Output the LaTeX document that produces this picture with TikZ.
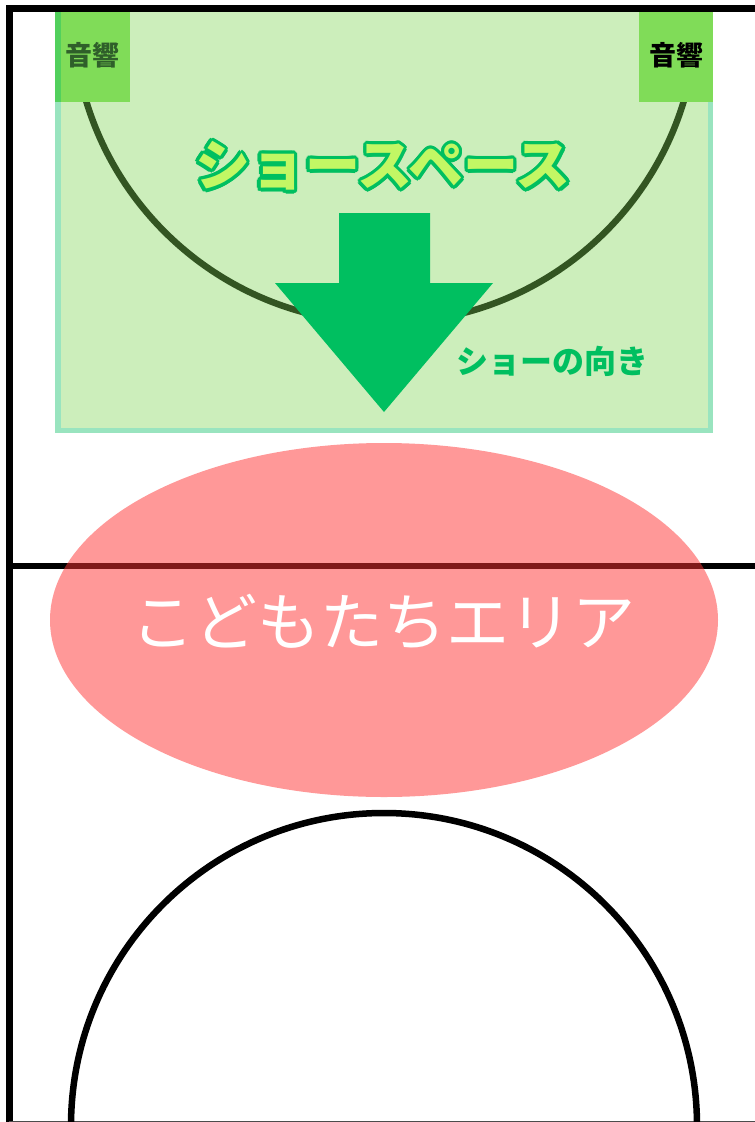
\documentclass[tikz,border=0pt]{standalone}
\usepackage{fontspec}
\usetikzlibrary{calc}
\newfontfamily\jp{Noto Sans CJK JP}
\definecolor{stagefill}{HTML}{CCEEBB}
\definecolor{stageline}{HTML}{99E4BF}
\definecolor{spkfill}{HTML}{80DC58}
\definecolor{spkstrip}{HTML}{52D05C}
\definecolor{arcgreen}{HTML}{335522}
\definecolor{arrowgreen}{HTML}{00BF60}
\definecolor{titlefill}{HTML}{C2F764}
\definecolor{spkdark}{HTML}{2F5F2A}
\definecolor{kidspink}{HTML}{FF3333}
\tikzset{
  spk/.style={font=\jp\bfseries\fontsize{27}{27}\selectfont, inner sep=0pt},
  titletext/.style={font=\jp\bfseries\fontsize{55}{55}\selectfont, inner sep=0pt},
  lbl/.style={font=\jp\bfseries\fontsize{32}{32}\selectfont, inner sep=0pt, text=arrowgreen},
  kidtext/.style={font=\jp\fontsize{63}{63}\selectfont, inner sep=0pt, text=white},
}
\begin{document}
\begin{tikzpicture}[x=1pt,y=-1pt]
\useasboundingbox (0,0) rectangle (755,1122);
\fill[white] (0,0) rectangle (755,1122);
% stage area
\fill[stagefill] (55,11) rectangle (713,433);
\draw[stageline, line width=5.5] (58,8) rectangle (710.5,430.5);
% stage arc
\draw[arcgreen, line width=6.5] (73,11) arc[start angle=180, end angle=0, radius=312];
% speakers
\fill[spkfill] (55,11) rectangle (130,102);
\fill[spkstrip] (55,11) rectangle (61,102);
\fill[spkfill] (639,11) rectangle (713,102);
\node[spk, text=spkdark] (spkL) at (92.5,55) {音響};
\node[spk, text=black] (spkR) at (676.5,55) {音響};
% title with outline
\foreach \a in {0,22.5,...,337.5}{
  \node[titletext, text=arrowgreen] at ($(383,166)+(\a:3.2)$) {ショースペース};
}
\node[titletext, text=titlefill] (title) at (383,166) {ショースペース};
% arrow
\fill[arrowgreen] (339,213) -- (430,213) -- (430,283) -- (493,283) -- (384,412) -- (275,283) -- (339,283) -- cycle;
\node[lbl] (dir) at (552,361) {ショーの向き};
% frame lines
\draw[black, line width=6.5] (755,8.3) -- (9.3,8.3) -- (9.3,1122);
\draw[black, line width=5.5] (9.3,566) -- (755,566);
\draw[black!70, line width=1] (9.3,1121.3) -- (755,1121.3);
% kids area
\fill[kidspink, opacity=0.5] (384,620) ellipse [x radius=334, y radius=177];
\node[kidtext] (kids) at (383,622) {こどもたちエリア};
% bottom arc
\draw[black, line width=6.5] (71,1126) arc[start angle=180, end angle=360, radius=313];
\end{tikzpicture}
\end{document}
